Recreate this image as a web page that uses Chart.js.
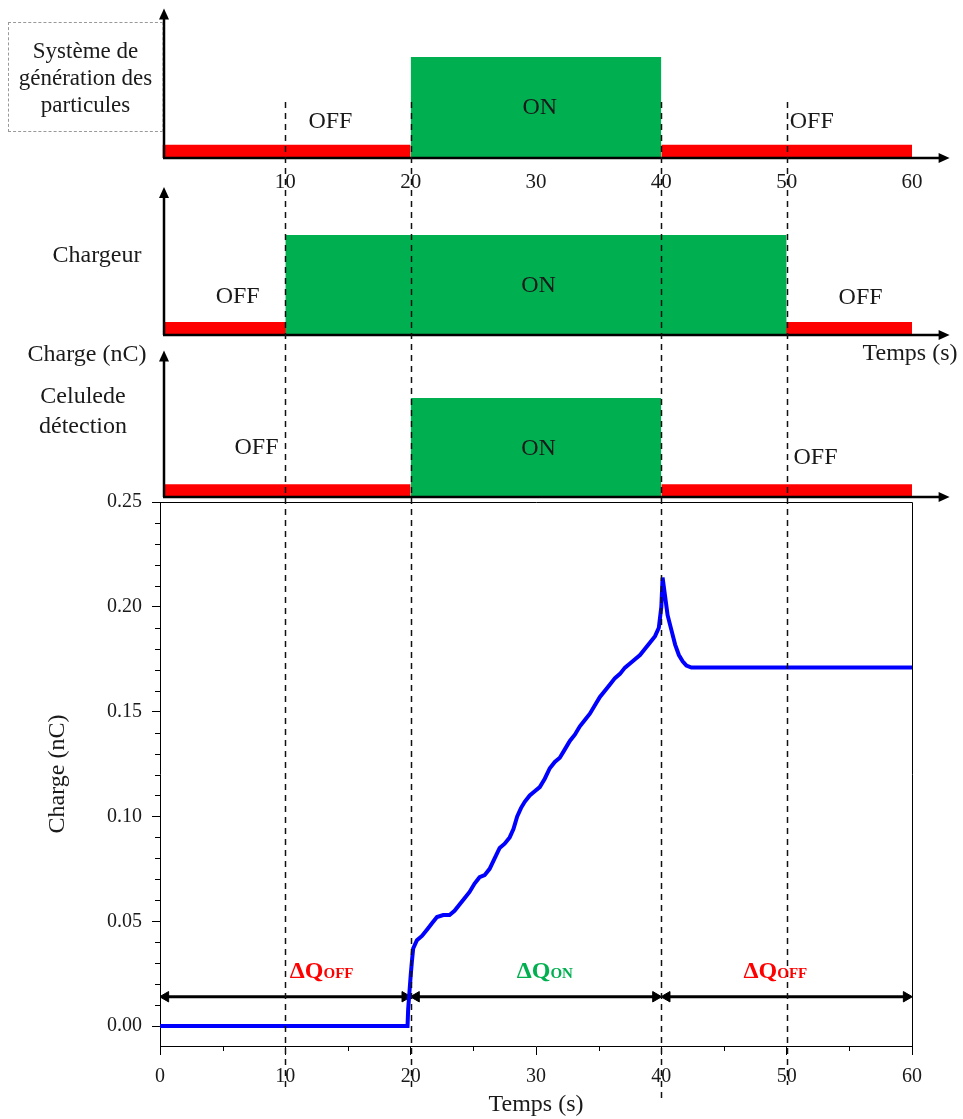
<!DOCTYPE html>
<html>
<head>
<meta charset="utf-8">
<script src="https://cdn.jsdelivr.net/npm/chart.js@4.4.1/dist/chart.umd.min.js"></script>
<style>
  body { margin:0; background:#fff; }
  #wrap { position:relative; width:963px; height:1119px; overflow:hidden; font-family:"Liberation Serif", serif; color:#1a1a1a; }
  canvas { position:absolute; left:0; }
  #principal { top:0; z-index:5; }
  .lbl { position:absolute; font-size:24px; line-height:1; white-space:nowrap; transform:translate(-50%,-50%); }
  #sysBox { position:absolute; left:8px; top:22px; width:155px; height:110px; border:1px dashed #999; box-sizing:border-box;
            text-align:center; font-size:23px; line-height:27px; padding-top:14px; white-space:nowrap; }
</style>
</head>
<body>
<div id="wrap">
  <canvas id="p1" width="963" height="200" style="top:0"></canvas>
  <canvas id="p2" width="963" height="170" style="top:180px"></canvas>
  <canvas id="p3" width="963" height="165" style="top:340px"></canvas>
  <canvas id="principal" width="963" height="1119"></canvas>

  <div id="sysBox">Système de<br>génération des<br>particules</div>
  <div class="lbl" style="left:97px;top:254px">Chargeur</div>
  <div class="lbl" style="left:87px;top:353px">Charge (nC)</div>
  <div class="lbl" style="left:83px;top:395px">Celulede</div>
  <div class="lbl" style="left:83px;top:425px">détection</div>
  <div class="lbl" style="left:910px;top:352px">Temps (s)</div>
</div>

<script>
// ------------------- DONNÉES -------------------
const temps  = [0, 19.75, 19.8, 19.9, 20.0, 20.1, 20.2, 20.5, 20.9, 21.3, 21.7, 22.1, 22.6, 23.1, 23.5, 23.9, 24.3, 24.7,
  25.1, 25.5, 25.9, 26.3, 26.7, 27.1, 27.5, 27.9, 28.2, 28.5, 28.8, 29.1, 29.5, 29.9, 30.3, 30.7, 31.1, 31.5, 31.9,
  32.3, 32.7, 33.1, 33.5, 33.9, 34.3, 34.7, 35.1, 35.5, 35.9, 36.3, 36.7, 37.1, 37.5, 37.9, 38.3, 38.7, 39.1, 39.5,
  39.8, 40.0, 40.1, 40.3, 40.5, 40.8, 41.1, 41.4, 41.7, 42.0, 42.4, 60];
const charge = [0, 0, 0.008, 0.016, 0.024, 0.031, 0.037, 0.041, 0.043, 0.046, 0.049, 0.052, 0.053, 0.053, 0.055, 0.058, 0.061, 0.064,
  0.068, 0.071, 0.072, 0.075, 0.080, 0.085, 0.087, 0.090, 0.094, 0.100, 0.104, 0.107, 0.110, 0.112, 0.114, 0.118, 0.123, 0.126, 0.128,
  0.132, 0.136, 0.139, 0.143, 0.146, 0.149, 0.153, 0.157, 0.160, 0.163, 0.166, 0.168, 0.171, 0.173, 0.175, 0.177, 0.180, 0.183, 0.186,
  0.190, 0.200, 0.214, 0.205, 0.196, 0.189, 0.182, 0.177, 0.174, 0.172, 0.171, 0.171];

const yTicks = [0, 0.05, 0.10, 0.15, 0.20, 0.25];
const xTicks = [0, 10, 20, 30, 40, 50, 60];
const reperes = [10, 20, 40, 50];

const dqSpans  = [[0, 20], [20, 40], [40, 60]];
const dqNoms   = ['OFF', 'ON', 'OFF'];
const dqCentre = [12.9, 30.7, 49.1];

const sysOn = [20, 40];
const sysOff = [[0.2, 20], [40, 60]];
const chargeurOn = [10, 50];
const chargeurOff = [[0.3, 10.4], [49.7, 60]];
const celluleOn = [20, 40];
const celluleOff = [[0.3, 20], [40, 60]];

// ------------------- STYLE -------------------
const VERT = '#00b050';
const ROUGE = '#ff0000';
const TEXTE = '#1a1a1a';
const SERIF = '"Liberation Serif", "Times New Roman", serif';
const HAUT_OFF = 0.13;
const NIVEAU_FLECHE = 0.014;
const NIVEAU_DQ = 0.027;

// axes fléchés + textes ON/OFF des panneaux
function flechesPanneau(textes){
  return {
    id:'fleches',
    afterDatasetsDraw(chart){
      const {ctx, scales:{x, y}} = chart;
      const x0 = x.getPixelForValue(0) + 4, y0 = y.getPixelForValue(0);
      const xFin = x.getPixelForValue(63), yFin = y.getPixelForValue(1.48);
      ctx.save();
      ctx.strokeStyle = '#000'; ctx.fillStyle = '#000'; ctx.lineWidth = 2.5;
      ctx.beginPath();
      ctx.moveTo(x0, y0); ctx.lineTo(x0, yFin + 8);
      ctx.moveTo(x0 - 1, y0); ctx.lineTo(xFin - 8, y0);
      ctx.stroke();
      ctx.beginPath();
      ctx.moveTo(x0, yFin); ctx.lineTo(x0 - 5, yFin + 11); ctx.lineTo(x0 + 5, yFin + 11); ctx.closePath(); ctx.fill();
      ctx.beginPath();
      ctx.moveTo(xFin, y0); ctx.lineTo(xFin - 11, y0 - 5); ctx.lineTo(xFin - 11, y0 + 5); ctx.closePath(); ctx.fill();
      ctx.font = '24px ' + SERIF; ctx.fillStyle = TEXTE;
      ctx.textAlign = 'center'; ctx.textBaseline = 'middle';
      textes.forEach(([t, vx, vy]) => ctx.fillText(t, x.getPixelForValue(vx), y.getPixelForValue(vy)));
      ctx.restore();
    }
  };
}

function panneau(id, on, off, textes, pad, avecTicks){
  const datasets = [
    { data:[{x:on[0], y:1}, {x:on[1], y:1}], fill:'origin', backgroundColor:VERT, borderWidth:0, pointRadius:0 },
    ...off.map(s => ({ data:[{x:s[0], y:HAUT_OFF}, {x:s[1], y:HAUT_OFF}], fill:'origin', backgroundColor:ROUGE, borderWidth:0, pointRadius:0 }))
  ];
  return new Chart(document.getElementById(id), {
    type:'line',
    data:{ datasets },
    options:{
      responsive:false, animation:false, events:[],
      layout:{ padding:{ left:160, right:51, top:pad.top, bottom:pad.bottom } },
      plugins:{ legend:{display:false}, tooltip:{enabled:false} },
      scales:{
        x:{
          type:'linear', min:0, max:60, display:avecTicks,
          afterBuildTicks: s => { s.ticks = xTicks.filter(v => v > 0).map(v => ({value:v})); },
          afterFit: s => { s.height = pad.axe || 0; },
          grid:{ display:false, drawTicks:false }, border:{ display:false },
          ticks:{ padding:12, color:TEXTE, font:{ family:SERIF, size:21 }, maxRotation:0, autoSkip:false }
        },
        y:{ min:0, max:1, display:false }
      }
    },
    plugins:[ flechesPanneau(textes) ]
  });
}

panneau('p1', sysOn, sysOff, [['OFF', 13.6, 0.36], ['ON', 30.3, 0.5], ['OFF', 52.0, 0.36]], {top:57, bottom:0, axe:42}, true);
panneau('p2', chargeurOn, chargeurOff, [['OFF', 6.2, 0.38], ['ON', 30.2, 0.49], ['OFF', 55.9, 0.37]], {top:55, bottom:15}, false);
panneau('p3', celluleOn, celluleOff, [['OFF', 7.7, 0.5], ['ON', 30.2, 0.485], ['OFF', 52.3, 0.4]], {top:58, bottom:8}, false);

// ------------------- GRAPHIQUE PRINCIPAL -------------------
const decor = {
  id:'decor',
  afterDatasetsDraw(chart){
    const {ctx, chartArea:a, scales:{x, y}} = chart;
    ctx.save();
    ctx.strokeStyle = '#000'; ctx.lineWidth = 1;
    ctx.beginPath();
    ctx.moveTo(a.left, a.top + 0.5); ctx.lineTo(a.right + 0.5, a.top + 0.5); ctx.lineTo(a.right + 0.5, a.bottom);
    ctx.stroke();
    // petites graduations
    ctx.beginPath();
    for (let k = 0; k <= 25; k++){
      if (k % 5 === 0) continue;
      const py = Math.round(y.getPixelForValue(k / 100)) + 0.5;
      ctx.moveTo(a.left, py); ctx.lineTo(a.left - 5, py);
    }
    for (let k = 1; k < 12; k += 2){
      const px = Math.round(x.getPixelForValue(k * 5)) + 0.5;
      ctx.moveTo(px, a.bottom); ctx.lineTo(px, a.bottom + 5);
    }
    ctx.stroke();
    ctx.restore();
  },
  afterDraw(chart){
    const {ctx, scales:{x, y}} = chart;
    const fins = [1090, 1088, 1102, 1085];
    ctx.save();
    ctx.strokeStyle = '#111'; ctx.lineWidth = 1.5; ctx.setLineDash([6, 5]);
    reperes.forEach((v, i) => {
      const px = Math.round(x.getPixelForValue(v)) + 0.5;
      ctx.beginPath(); ctx.moveTo(px, 102); ctx.lineTo(px, fins[i]); ctx.stroke();
    });
    ctx.setLineDash([]);
    // étiquettes ΔQ
    const py = y.getPixelForValue(NIVEAU_DQ) + 9;
    dqNoms.forEach((nom, i) => {
      ctx.fillStyle = nom === 'ON' ? VERT : ROUGE;
      ctx.font = 'bold 24px ' + SERIF;
      const w1 = ctx.measureText('ΔQ').width;
      ctx.font = 'bold 15px ' + SERIF;
      const w2 = ctx.measureText(nom).width;
      const x0 = x.getPixelForValue(dqCentre[i]) - (w1 + w2) / 2;
      ctx.textAlign = 'left'; ctx.textBaseline = 'alphabetic';
      ctx.font = 'bold 24px ' + SERIF; ctx.fillText('ΔQ', x0, py);
      ctx.font = 'bold 15px ' + SERIF; ctx.fillText(nom, x0 + w1, py);
    });
    ctx.restore();
  }
};

new Chart(document.getElementById('principal'), {
  type:'line',
  data:{
    datasets:[
      { data: temps.map((t, i) => ({x:t, y:charge[i]})), borderColor:'#0000ff', borderWidth:4, pointRadius:0, tension:0, fill:false },
      ...dqSpans.map(([a, b]) => ({
        data:[{x:a + 0.45, y:NIVEAU_FLECHE}, {x:b - 0.45, y:NIVEAU_FLECHE}],
        borderColor:'#000', borderWidth:3, fill:false,
        pointStyle:'triangle', pointRotation:[270, 90], pointRadius:6,
        pointBackgroundColor:'#000', pointBorderColor:'#000', pointBorderWidth:1
      }))
    ]
  },
  options:{
    responsive:false, animation:false, events:[],
    layout:{ padding:{ left:0, right:51, top:502, bottom:0 } },
    plugins:{ legend:{display:false}, tooltip:{enabled:false} },
    scales:{
      x:{
        type:'linear', min:0, max:60,
        afterBuildTicks: s => { s.ticks = xTicks.map(v => ({value:v})); },
        afterFit: s => { s.height = 73; },
        grid:{ drawOnChartArea:false, tickLength:9, color:'#000' },
        border:{ color:'#000', width:1 },
        ticks:{ padding:10, color:TEXTE, font:{ family:SERIF, size:20 }, maxRotation:0, autoSkip:false },
        title:{ display:true, text:'Temps (s)', color:TEXTE, font:{ family:SERIF, size:24 }, padding:{ top:0, bottom:0 } }
      },
      y:{
        type:'linear', min:-0.0095, max:0.25,
        afterBuildTicks: s => { s.ticks = yTicks.map(v => ({value:v})); },
        afterFit: s => { s.width = 160; },
        grid:{ drawOnChartArea:false, tickLength:8, color:'#000' },
        border:{ color:'#000', width:1 },
        ticks:{ padding:10, color:TEXTE, font:{ family:SERIF, size:20 }, callback: v => v.toFixed(2) },
        title:{ display:true, text:'Charge (nC)', color:TEXTE, font:{ family:SERIF, size:24 }, padding:{ top:43, bottom:0 } }
      }
    }
  },
  plugins:[ decor ]
});
</script>
</body>
</html>
